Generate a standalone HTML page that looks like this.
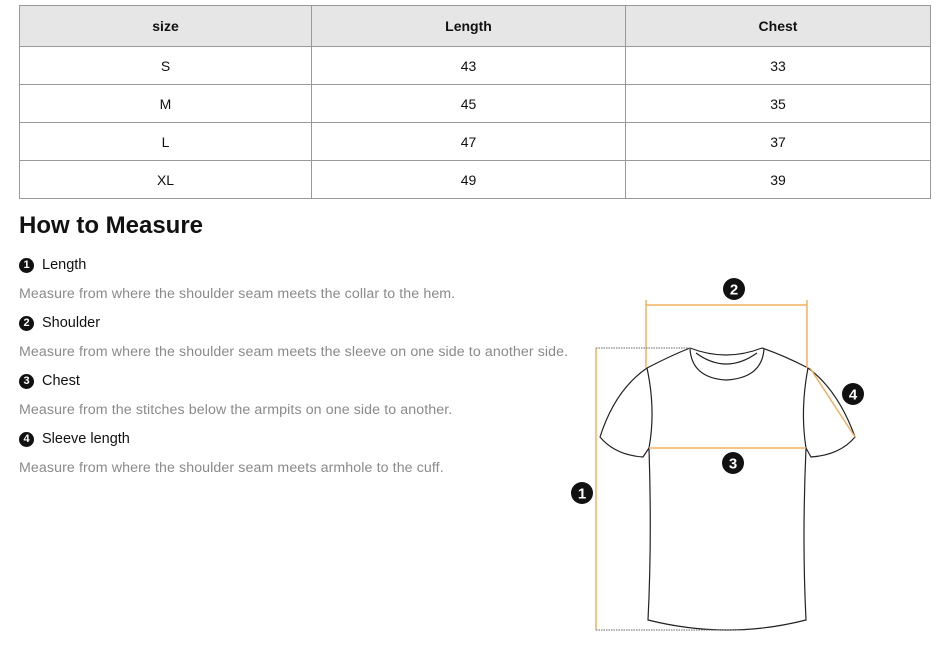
<!DOCTYPE html>
<html><head><meta charset="utf-8"><style>
body{margin:0;width:945px;height:662px;background:#fff;font-family:"Liberation Sans",sans-serif;position:relative;overflow:hidden}
table{position:absolute;left:19px;top:5px;width:912px;border-collapse:collapse}
td,th{border:1px solid #999;text-align:center;font-size:14px;color:#111;height:37px;padding:0}
th{background:#e6e6e6;font-weight:bold;height:40px}
h2{position:absolute;left:19px;top:212px;margin:0;font-size:24px;font-weight:bold;color:#111}
.lbl{position:absolute;left:19px;font-size:14.5px;color:#111;display:flex;align-items:center}
.n{display:inline-block;width:15px;height:15px;border-radius:50%;background:#111;color:#fff;font-size:11px;font-weight:bold;text-align:center;line-height:15px;margin-right:8px}
.d{position:absolute;left:19px;font-size:14.2px;color:#8a8a8a;white-space:nowrap;letter-spacing:0.1px}
</style></head><body>
<table>
<tr><th style="width:291px">size</th><th style="width:313px">Length</th><th>Chest</th></tr>
<tr><td>S</td><td>43</td><td>33</td></tr>
<tr><td>M</td><td>45</td><td>35</td></tr>
<tr><td>L</td><td>47</td><td>37</td></tr>
<tr><td>XL</td><td>49</td><td>39</td></tr>
</table>
<h2>How to Measure</h2>
<div class="lbl" style="top:257px"><span class="n">1</span>Length</div>
<div class="d" style="top:286px">Measure from where the shoulder seam meets the collar to the hem.</div>
<div class="lbl" style="top:315px"><span class="n">2</span>Shoulder</div>
<div class="d" style="top:344px">Measure from where the shoulder seam meets the sleeve on one side to another side.</div>
<div class="lbl" style="top:373px"><span class="n">3</span>Chest</div>
<div class="d" style="top:402px">Measure from the stitches below the armpits on one side to another.</div>
<div class="lbl" style="top:431px"><span class="n">4</span>Sleeve length</div>
<div class="d" style="top:460px">Measure from where the shoulder seam meets armhole to the cuff.</div>
<svg width="945" height="662" style="position:absolute;left:0;top:0">
<g fill="none" stroke="#222" stroke-width="1.2">
<path d="M690 348 Q670 356 647 368 Q615 390 600 437 Q615 455 643 457 L649 448"/>
<path d="M762 348 Q785 356 808 368 Q838 390 855 437 Q840 455 811 457 L806 448"/>
<path d="M647 368 Q656 410 649 448 Q652 540 648 620 Q728 640 806 620 Q802 540 806 448 Q800 410 808 368"/>
<path d="M690 348 Q726 362 762 348"/>
<path d="M690 349 Q692 378 726 380 Q762 378 764 349"/>
<path d="M696 353 Q726 375 757 353"/>
</g>
<g stroke="#f0b060" stroke-width="1.5" fill="none">
<path d="M646 300 V368 M646 305 H807 M807 300 V368"/>
<path d="M649 448 H806"/>
<path d="M596 348 V630"/>
<path d="M810 368 L855 437"/>
</g>
<g stroke="#666" stroke-width="1" stroke-dasharray="1.5 1">
<path d="M596 348 H690 M596 630 H745"/>
</g>
<g font-family="Liberation Sans,sans-serif" font-size="15" font-weight="bold" text-anchor="middle" fill="#fff">
<circle cx="734" cy="289" r="11" fill="#111"/><text x="734" y="294.5">2</text>
<circle cx="733" cy="463" r="11" fill="#111"/><text x="733" y="468.5">3</text>
<circle cx="582" cy="493" r="11" fill="#111"/><text x="582" y="498.5">1</text>
<circle cx="853" cy="394" r="11" fill="#111"/><text x="853" y="399.5">4</text>
</g>
</svg>
</body></html>
